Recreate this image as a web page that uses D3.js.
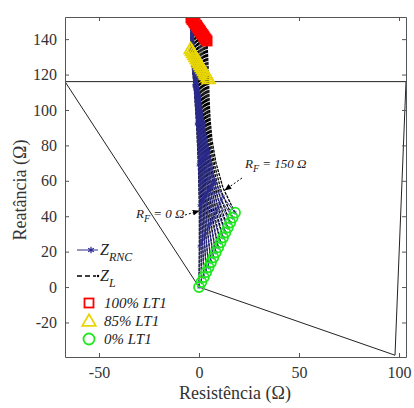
<!DOCTYPE html>
<html><head><meta charset="utf-8">
<script src="https://cdn.jsdelivr.net/npm/d3@7"></script>
<style>
body{margin:0;background:#fff}
svg text{font-family:"Liberation Serif","Times New Roman",serif}
</style>
</head><body>
<svg id="c" width="414" height="408" font-family="Liberation Serif, Times New Roman, serif"></svg>
<script>
// ---------- data ----------
const xTicks = [-50, 0, 50, 100];
const yTicks = [-20, 0, 20, 40, 60, 80, 100, 120, 140];
const faultRes = [0,10,20,30,40,50,60,70,80,90,100,110,120,130,140,150]; // R_F (ohm)
const locations = [0, 15, 30, 45, 60, 75, 85, 100]; // % of LT1
// apparent impedance Z_L: one row per fault location, one value per R_F
const zlX = [
  [0,1.2,2.4,3.6,4.8,6,7.2,8.4,9.6,10.8,12,13.2,14.4,15.6,16.8,18],
  [0.2,1.0,1.8,2.6,3.3,4.1,4.9,5.7,6.5,7.3,8.1,8.9,9.6,10.4,11.2,12],
  [0.2,0.8,1.3,1.9,2.4,3.0,3.5,4.1,4.6,5.2,5.7,6.3,6.8,7.4,7.9,8.5],
  [-0.3,0.2,0.6,1.1,1.5,2.0,2.4,2.9,3.3,3.8,4.2,4.7,5.1,5.6,6.0,6.5],
  [-1.2,-0.8,-0.3,0.1,0.6,1.0,1.5,1.9,2.4,2.8,3.3,3.7,4.2,4.6,5.1,5.5],
  [-2.5,-2,-1.5,-1,-0.5,0,0.5,1,1.5,2,2.5,3,3.5,4,4.5,5],
  [-4.2,-3.6,-3.0,-2.4,-1.8,-1.2,-0.6,0,0.6,1.2,1.8,2.4,3.0,3.6,4.2,4.8],
  [-4,-3.5,-2.9,-2.4,-1.9,-1.3,-0.8,-0.3,0.3,0.8,1.3,1.9,2.4,2.9,3.5,4]
];
const zlY = [
  [0,2.8,5.6,8.4,11.2,14,16.8,19.6,22.4,25.2,28,30.8,33.6,36.4,39.2,42],
  [23,25.2,27.4,29.6,31.8,34,36.2,38.4,40.6,42.8,45,47.2,49.4,51.6,53.8,56],
  [46,47.6,49.2,50.8,52.4,54,55.6,57.2,58.8,60.4,62,63.6,65.2,66.8,68.4,70],
  [69,69.9,70.9,71.8,72.7,73.7,74.6,75.5,76.5,77.4,78.3,79.3,80.2,81.1,82.1,83],
  [92,92.2,92.4,92.6,92.8,93,93.2,93.4,93.6,93.8,94,94.2,94.4,94.6,94.8,95],
  [114,113.5,113.1,112.6,112.1,111.7,111.2,110.7,110.3,109.8,109.3,108.9,108.4,107.9,107.5,107],
  [134,132.9,131.7,130.6,129.5,128.3,127.2,126.1,124.9,123.8,122.7,121.5,120.4,119.3,118.1,117],
  [152,151.1,150.3,149.4,148.5,147.7,146.8,145.9,145.1,144.2,143.3,142.5,141.6,140.7,139.9,139]
];
// impedance estimated by the neural network (RNC), same layout
const zrncX = [
  [0,1.2,2.4,3.6,4.8,6,7.2,8.4,9.6,10.8,12,13.2,14.4,15.6,16.8,18],
  [0.2,1.0,1.8,2.6,3.3,4.1,4.9,5.7,6.5,7.3,8.1,8.9,9.6,10.4,11.2,12],
  [0.2,0.7,1.2,1.8,2.3,2.8,3.3,3.8,4.4,4.9,5.4,5.9,6.4,7.0,7.5,8],
  [-0.3,0.1,0.4,0.8,1.1,1.5,1.8,2.2,2.5,2.9,3.2,3.6,3.9,4.3,4.6,5],
  [-1.2,-1.0,-0.7,-0.5,-0.2,0,0.3,0.5,0.8,1.0,1.3,1.5,1.8,2.0,2.3,2.5],
  [-2.5,-2.3,-2.1,-1.9,-1.7,-1.5,-1.3,-1.1,-0.9,-0.7,-0.5,-0.3,-0.1,0.1,0.3,0.5],
  [-4.2,-4.0,-3.8,-3.7,-3.5,-3.3,-3.1,-2.9,-2.8,-2.6,-2.4,-2.2,-2.0,-1.9,-1.7,-1.5],
  [-4,-4,-3.9,-3.9,-3.9,-3.8,-3.8,-3.8,-3.7,-3.7,-3.7,-3.6,-3.6,-3.6,-3.5,-3.5]
];
const zrncY = [
  [0,2.8,5.6,8.4,11.2,14,16.8,19.6,22.4,25.2,28,30.8,33.6,36.4,39.2,42],
  [23,24.9,26.7,28.6,30.5,32.3,34.2,36.1,37.9,39.8,41.7,43.5,45.4,47.3,49.1,51],
  [46,46.9,47.9,48.8,49.7,50.7,51.6,52.5,53.5,54.4,55.3,56.3,57.2,58.1,59.1,60],
  [69,69.5,70.1,70.6,71.1,71.7,72.2,72.7,73.3,73.8,74.3,74.9,75.4,75.9,76.5,77],
  [92,92.1,92.1,92.2,92.3,92.3,92.4,92.5,92.5,92.6,92.7,92.7,92.8,92.9,92.9,93],
  [114,113.5,113.1,112.6,112.1,111.7,111.2,110.7,110.3,109.8,109.3,108.9,108.4,107.9,107.5,107],
  [134,133.2,132.4,131.6,130.8,130,129.2,128.4,127.6,126.8,126,125.2,124.4,123.6,122.8,122],
  [152,151.9,151.7,151.6,151.5,151.3,151.2,151.1,150.9,150.8,150.7,150.5,150.4,150.3,150.1,150]
];
// relay quadrilateral characteristic
const quadR = [-67, 0, 98, 103.5, -67];
const quadX = [116, 0, -38.5, 116, 116];
const legendLabels = ["100% LT1", "85% LT1", "0% LT1"];

// ---------- scales ----------
const FONT = '"Liberation Serif","Times New Roman",serif';
const svg = d3.select("#c");
const x = d3.scaleLinear().domain([-67, 103.5]).range([65, 406]);
const y = d3.scaleLinear().domain([-39.5, 152.5]).range([357, 17]);

const defs = svg.append("defs");
defs.append("clipPath").attr("id","clip")
  .append("rect").attr("x",65).attr("y",17).attr("width",341).attr("height",340);
const plot = svg.append("g").attr("clip-path","url(#clip)");

// quadrilateral
plot.append("path")
  .datum(quadR.map((r,i)=>[r,quadX[i]]))
  .attr("d", d3.line().x(d=>x(d[0])).y(d=>y(d[1])))
  .attr("fill","none").attr("stroke","#222").attr("stroke-width",1);

// trajectories per R_F
const traj = (XS, YS) => faultRes.map((rf,k)=>locations.map((p,i)=>[XS[i][k], YS[i][k]]));
const lineGen = d3.line().x(d=>x(d[0])).y(d=>y(d[1]));
const NAVY = "#2a2a8e";

const zl = traj(zlX, zlY);
plot.append("g").selectAll("path").data(zl).join("path")
  .attr("d", lineGen).attr("fill","none").attr("stroke","#000").attr("stroke-width",1.3)
  .attr("stroke-dasharray","3,1");
const plus = d3.symbol().type(d3.symbolPlus).size(12);
plot.append("g").selectAll("path").data(zl.flat()).join("path")
  .attr("transform", d=>`translate(${x(d[0])},${y(d[1])})`).attr("d", plus).attr("fill","#000");

const rnc = traj(zrncX, zrncY);
plot.append("g").selectAll("path").data(rnc).join("path")
  .attr("d", lineGen).attr("fill","none").attr("stroke",NAVY).attr("stroke-width",0.9);
const star = d3.symbol().type(d3.symbolAsterisk).size(12);
plot.append("g").selectAll("path").data(rnc.flat()).join("path")
  .attr("transform", d=>`translate(${x(d[0])},${y(d[1])})`)
  .attr("d", star).attr("fill","none").attr("stroke",NAVY).attr("stroke-width",0.8);

// location markers
const row = i => faultRes.map((rf,k)=>[zlX[i][k], zlY[i][k]]);
const iLast = locations.indexOf(100), i85 = locations.indexOf(85), i0 = locations.indexOf(0);
plot.append("g").selectAll("rect").data(row(iLast)).join("rect")
  .attr("x", d=>x(d[0])-4.5).attr("y", d=>y(d[1])-4.5).attr("width",9).attr("height",9)
  .attr("fill","none").attr("stroke","#ff0000").attr("stroke-width",2);
const tri = d3.symbol().type(d3.symbolTriangle2).size(110);
plot.append("g").selectAll("path").data(row(i85)).join("path")
  .attr("transform", d=>`translate(${x(d[0])},${y(d[1])})`).attr("d", tri)
  .attr("fill","none").attr("stroke","#e8d600").attr("stroke-width",1.8);
plot.append("g").selectAll("circle").data(row(i0)).join("circle")
  .attr("cx", d=>x(d[0])).attr("cy", d=>y(d[1])).attr("r",5)
  .attr("fill","none").attr("stroke","#1fe81f").attr("stroke-width",1.8);

// ---------- axes ----------
const axCol = "#555";
function styleAxis(g){
  g.attr("font-family", FONT).attr("font-size", 16);
  g.select(".domain").attr("stroke",axCol);
  g.selectAll(".tick line").attr("stroke",axCol);
  g.selectAll("text").attr("fill","#333");
}
const fmt = d => String(d);
svg.append("g").attr("transform","translate(0,357)")
  .call(d3.axisBottom(x).tickValues(xTicks).tickFormat(fmt).tickSizeInner(-4).tickSizeOuter(0).tickPadding(10)).call(styleAxis);
svg.append("g").attr("transform","translate(0,17)")
  .call(d3.axisTop(x).tickValues(xTicks).tickSizeInner(-4).tickSizeOuter(0).tickFormat("")).call(styleAxis);
svg.append("g").attr("transform","translate(65,0)")
  .call(d3.axisLeft(y).tickValues(yTicks).tickFormat(fmt).tickSizeInner(-4).tickSizeOuter(0).tickPadding(8)).call(styleAxis);
svg.append("g").attr("transform","translate(406,0)")
  .call(d3.axisRight(y).tickValues(yTicks).tickSizeInner(-4).tickSizeOuter(0).tickFormat("")).call(styleAxis);

svg.append("text").attr("x",235).attr("y",399).attr("text-anchor","middle")
  .style("font-size","18px").attr("fill","#333").text("Resistência (Ω)");
svg.append("text").attr("transform","translate(26,190) rotate(-90)").attr("text-anchor","middle")
  .style("font-size","18px").attr("fill","#333").text("Reatância (Ω)");

// ---------- annotations ----------
function rfLabel(tx, ty, val){
  const t = svg.append("text").attr("x",tx).attr("y",ty).style("font-size","13px").style("font-style","italic").attr("fill","#222");
  t.append("tspan").text("R");
  t.append("tspan").attr("dy",4).style("font-size","10px").text("F");
  t.append("tspan").attr("dy",-4).text(" = " + val + " Ω");
}
rfLabel(136, 218, 0);
rfLabel(245, 168, 150);
defs.append("marker").attr("id","ah").attr("viewBox","0 0 10 10").attr("refX",9).attr("refY",5)
  .attr("markerWidth",7).attr("markerHeight",7).attr("orient","auto")
  .append("path").attr("d","M0,1 L10,5 L0,9 z").attr("fill","#000");
svg.append("line").attr("x1",185).attr("y1",215).attr("x2",199).attr("y2",211)
  .attr("stroke","#000").attr("stroke-dasharray","2,2").attr("marker-end","url(#ah)");
svg.append("line").attr("x1",242).attr("y1",178).attr("x2",225).attr("y2",190)
  .attr("stroke","#000").attr("stroke-dasharray","2,2").attr("marker-end","url(#ah)");

// ---------- legend ----------
const lg = svg.append("g");
lg.append("line").attr("x1",77).attr("x2",98).attr("y1",250).attr("y2",250).attr("stroke",NAVY);
lg.append("path").attr("transform","translate(91,250)").attr("d", d3.symbol().type(d3.symbolAsterisk).size(30)())
  .attr("stroke",NAVY).attr("fill","none").attr("stroke-width",1.2);
let t = lg.append("text").attr("x",100).attr("y",255).style("font-style","italic").style("font-size","16px").attr("fill","#222");
t.append("tspan").text("Z"); t.append("tspan").attr("dy",6).style("font-size","12px").text("RNC");
lg.append("line").attr("x1",77).attr("x2",96).attr("y1",276).attr("y2",276).attr("stroke","#000")
  .attr("stroke-width",1.5).attr("stroke-dasharray","5,3");
lg.append("circle").attr("cx",98).attr("cy",276).attr("r",1.2).attr("fill","#000");
t = lg.append("text").attr("x",100).attr("y",281).style("font-style","italic").style("font-size","16px").attr("fill","#222");
t.append("tspan").text("Z"); t.append("tspan").attr("dy",6).style("font-size","12px").text("L");

const ly = [303, 321, 339];
lg.append("rect").attr("x",84.5).attr("y",ly[0]-4.5).attr("width",9).attr("height",9)
  .attr("fill","none").attr("stroke","#ff0000").attr("stroke-width",1.8);
lg.append("path").attr("transform",`translate(89,${ly[1]+1})`).attr("d", d3.symbol().type(d3.symbolTriangle2).size(130)())
  .attr("fill","none").attr("stroke","#e8d600").attr("stroke-width",1.8);
lg.append("circle").attr("cx",89).attr("cy",ly[2]).attr("r",5.5)
  .attr("fill","none").attr("stroke","#1fe81f").attr("stroke-width",1.8);
legendLabels.forEach((s,i)=>{
  lg.append("text").attr("x",104).attr("y",ly[i]+5).style("font-style","italic").style("font-size","15px")
    .attr("fill","#222").text(s);
});
</script>
</body></html>
